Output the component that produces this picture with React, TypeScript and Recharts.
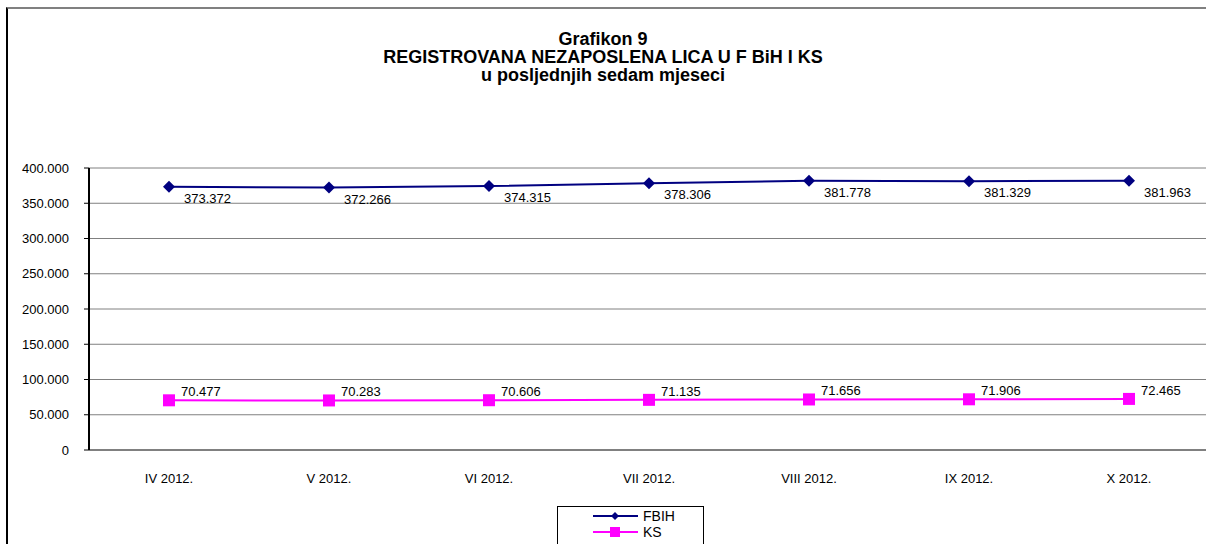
import { LineChart, Line, XAxis, YAxis, CartesianGrid, Legend, LabelList } from "recharts"

const months = ["IV 2012.", "V 2012.", "VI 2012.", "VII 2012.", "VIII 2012.", "IX 2012.", "X 2012."]
const fbih = [373372, 372266, 374315, 378306, 381778, 381329, 381963]
const ks = [70477, 70283, 70606, 71135, 71656, 71906, 72465]
const yTicks = [0, 50000, 100000, 150000, 200000, 250000, 300000, 350000, 400000]

const data = months.map((m, i) => ({ name: m, fbih: fbih[i], ks: ks[i] }))

const fmt = (v: number) => v.toLocaleString("de-DE")
const FONT = "'Liberation Sans', Arial, sans-serif"

const Diamond = (props: any) => {
  const { cx, cy } = props
  if (cx == null || cy == null) return null
  return <path d={`M${cx},${cy - 6}L${cx + 6},${cy}L${cx},${cy + 6}L${cx - 6},${cy}Z`} fill="#000080" />
}

const Square = (props: any) => {
  const { cx, cy } = props
  if (cx == null || cy == null) return null
  return <rect x={cx - 6} y={cy - 6} width={12} height={12} fill="#FF00FF" />
}

const fbihLabel = (props: any) => {
  const { x, y, value } = props
  return (
    <text x={x + 15} y={y + 16} fontSize={13} fontFamily={FONT} fill="#000">
      {fmt(value)}
    </text>
  )
}

const ksLabel = (props: any) => {
  const { x, y, value } = props
  return (
    <text x={x + 12} y={y - 4} fontSize={13} fontFamily={FONT} fill="#000">
      {fmt(value)}
    </text>
  )
}

const LegendBox = () => (
  <div
    style={{
      border: "1px solid #000",
      width: 147,
      height: 40,
      boxSizing: "border-box",
      fontFamily: FONT,
      fontSize: 14,
      background: "#fff",
    }}
  >
    <svg width={145} height={38} style={{ display: "block" }}>
      <line x1={35} y1={9} x2={80} y2={9} stroke="#000080" strokeWidth={2} />
      <path d="M57,5L61,9L57,13L53,9Z" fill="#000080" />
      <text x={85} y={14} fontSize={14} fontFamily={FONT}>FBIH</text>
      <line x1={35} y1={25} x2={80} y2={25} stroke="#FF00FF" strokeWidth={2} />
      <rect x={52} y={20} width={10} height={10} fill="#FF00FF" />
      <text x={85} y={30} fontSize={14} fontFamily={FONT}>KS</text>
    </svg>
  </div>
)

export default function App() {
  return (
    <div
      style={{
        position: "absolute",
        left: 0,
        top: 0,
        width: 1206,
        height: 544,
        overflow: "hidden",
        background: "#fff",
      }}
    >
      <div
        style={{
          position: "absolute",
          left: 6,
          top: 7,
          width: 1220,
          height: 560,
          borderLeft: "2px solid #000",
          borderTop: "2px solid #808080",
        }}
      />
      <div
        style={{
          position: "absolute",
          left: 0,
          top: 30,
          width: 1206,
          textAlign: "center",
          fontFamily: FONT,
          fontWeight: "bold",
          fontSize: 18,
          lineHeight: "18px",
        }}
      >
        <div>Grafikon 9</div>
        <div>REGISTROVANA NEZAPOSLENA LICA U F BiH I KS</div>
        <div>u posljednjih sedam mjeseci</div>
      </div>
      <div style={{ position: "absolute", left: 0, top: 0 }}>
        <LineChart width={1212} height={544} data={data} margin={{ top: 168, right: 3, bottom: 24, left: 0 }}>
          <CartesianGrid vertical={false} stroke="#808080" strokeWidth={1} />
          <XAxis
            dataKey="name"
            height={30}
            padding={{ left: 80, right: 80 }}
            axisLine={{ stroke: "#808080", strokeWidth: 2 }}
            tickLine={false}
            tickMargin={18}
            tick={{ fontSize: 13, fontFamily: FONT, fill: "#000" }}
          />
          <YAxis
            width={89}
            domain={[0, 400000]}
            ticks={yTicks}
            tickFormatter={fmt}
            axisLine={{ stroke: "#000", strokeWidth: 2 }}
            tickLine={{ stroke: "#000", strokeWidth: 1 }}
            tickSize={5}
            tickMargin={15}
            tick={{ fontSize: 13, fontFamily: FONT, fill: "#000" }}
            interval={0}
          />
          <Legend
            verticalAlign="bottom"
            content={() => <LegendBox />}
            wrapperStyle={{ left: 557, top: 506, width: 147, bottom: "auto" }}
          />
          <Line
            type="linear"
            dataKey="fbih"
            name="FBIH"
            stroke="#000080"
            strokeWidth={2}
            dot={<Diamond />}
            activeDot={false}
            isAnimationActive={false}
          >
            <LabelList dataKey="fbih" content={fbihLabel} />
          </Line>
          <Line
            type="linear"
            dataKey="ks"
            name="KS"
            stroke="#FF00FF"
            strokeWidth={2}
            dot={<Square />}
            activeDot={false}
            isAnimationActive={false}
          >
            <LabelList dataKey="ks" content={ksLabel} />
          </Line>
        </LineChart>
      </div>
    </div>
  )
}
